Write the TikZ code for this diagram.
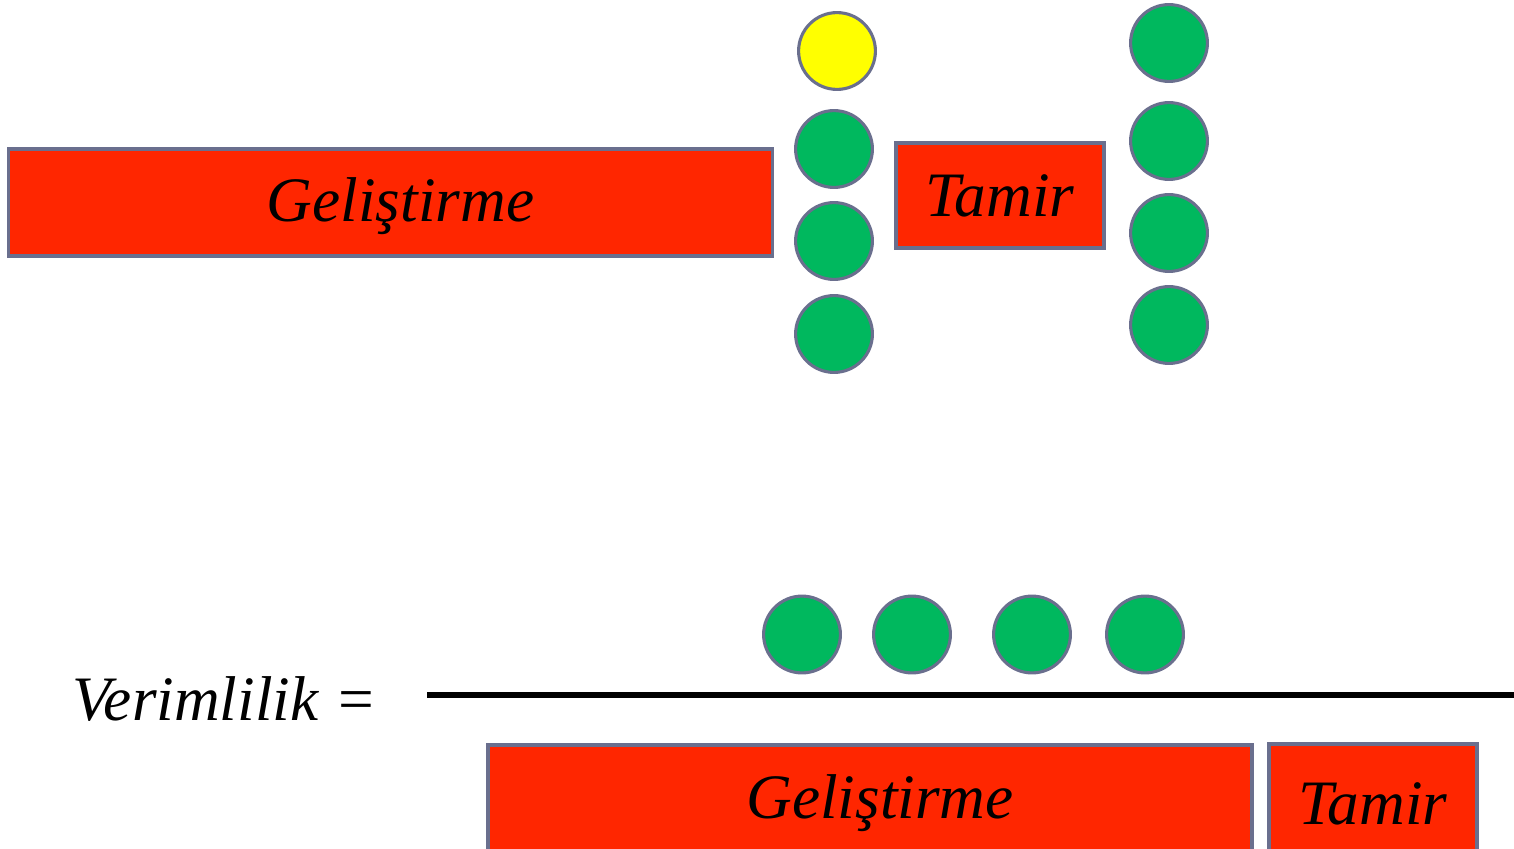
\documentclass[tikz,border=0pt]{standalone}
\usepackage{fontspec}
\setmainfont{Liberation Serif}
\usetikzlibrary{positioning}

\definecolor{kirmizi}{HTML}{FF2600}
\definecolor{yesil}{HTML}{00B85E}
\definecolor{sari}{HTML}{FFFF00}
\definecolor{kenar}{HTML}{6A6F8E}

\begin{document}
\begin{tikzpicture}[x=0.025cm,y=-0.025cm,
    yazi/.style={font=\fontsize{45}{50}\selectfont\itshape,inner sep=0pt},
    blok/.style={draw=kenar,fill=kirmizi,line width=2.4pt,inner sep=0pt,yazi},
    top/.style={circle,draw=kenar,line width=2.2pt,inner sep=0pt,minimum size=1.92cm,fill=#1}]
  \clip (0,0) rectangle (1514,849);
  \useasboundingbox (0,0) rectangle (1514,849);

  % first line: development, the yellow ball, repair, four greens
  \node[blok,minimum width=19.08cm,minimum height=2.68cm] (gel1) at (390.5,202.5) {};
  \node[yazi] (gel1yazi) at ([xshift=0.25cm,yshift=-0.1cm]gel1.center) {Geliştirme};
  \node[blok,minimum width=5.2cm,minimum height=2.62cm] (tam1) at (1000,195.5) {Tamir};
  \node[top=sari] (s1) at (837,51) {};
  \foreach \y [count=\i] in {149,241,334}
    \node[top=yesil] (sol\i) at (834,\y) {};
  \foreach \y [count=\i] in {43,141,233,325}
    \node[top=yesil] (sag\i) at (1169,\y) {};

  % productivity as a ratio
  \node[anchor=base west,yazi] (verim) at (72,720) {Verimlilik =};
  \coordinate (cizgiA) at (427,695);
  \coordinate (cizgiB) at (1514,695);
  \draw[line width=3.6pt] (cizgiA) -- (cizgiB);
  \foreach \x [count=\i] in {802,912,1032,1145}
    \node[top=yesil] (pay\i) at (\x,634.5) {};
  \node[blok,minimum width=19.1cm,minimum height=2.68cm] (gel2) at (870,798.5) {};
  \node[yazi] (gel2yazi) at ([xshift=0.25cm,yshift=-0.12cm]gel2.center) {Geliştirme};
  \node[blok,minimum width=5.2cm,minimum height=3cm] (tam2) at (1373,804) {Tamir};
\end{tikzpicture}
\end{document}
